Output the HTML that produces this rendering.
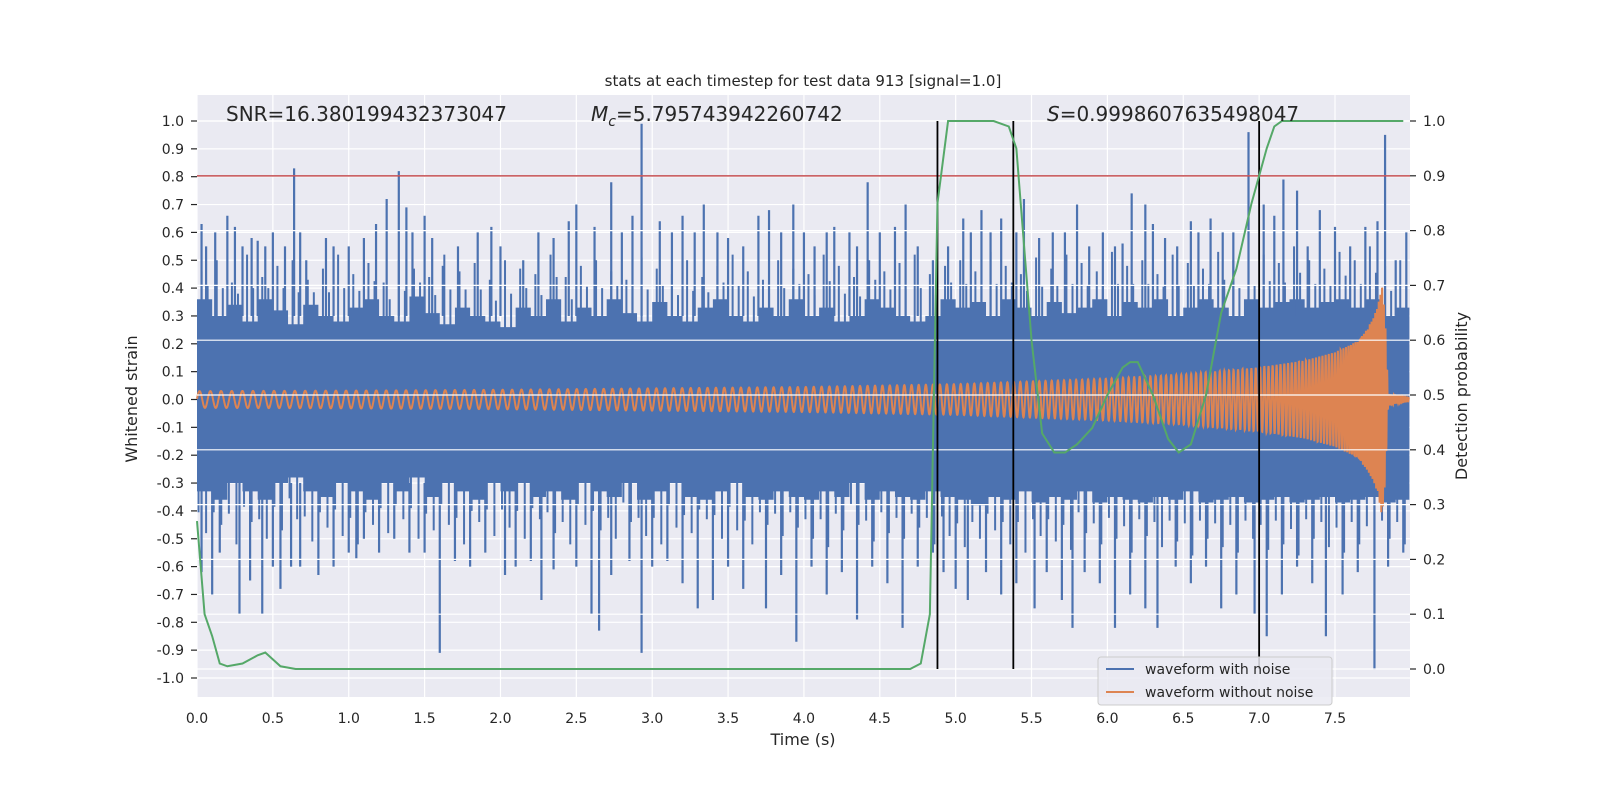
<!DOCTYPE html>
<html><head><meta charset="utf-8"><style>
html,body{margin:0;padding:0;background:#fff;overflow:hidden;width:1600px;height:800px}
svg{display:block;font-family:"DejaVu Sans","Liberation Sans",sans-serif}
</style></head><body>
<svg id="chart" width="1600" height="800" viewBox="0 0 1600 800" xmlns="http://www.w3.org/2000/svg">
<rect width="1600" height="800" fill="#fff"/>
<g id="bg"></g>
<g id="g1"></g>
<g id="g2"></g>
<text x="803" y="86" font-size="15" text-anchor="middle" fill="#262626">stats at each timestep for test data 913 [signal=1.0]</text>
<text x="226" y="121" font-size="20" fill="#262626">SNR=16.380199432373047</text>
<text x="591" y="121" font-size="20" fill="#262626"><tspan font-style="italic">M</tspan><tspan font-style="italic" font-size="14" dy="5">c</tspan><tspan dy="-5">=5.795743942260742</tspan></text>
<text x="1047" y="121" font-size="20" fill="#262626"><tspan font-style="italic">S</tspan>=0.9998607635498047</text>
<text x="803" y="745" font-size="16" text-anchor="middle" fill="#262626">Time (s)</text>
<text transform="translate(137,399) rotate(-90)" font-size="16" text-anchor="middle" fill="#262626">Whitened strain</text>
<text transform="translate(1467,396) rotate(-90)" font-size="16" text-anchor="middle" fill="#262626">Detection probability</text>
<g>
<rect x="1098" y="657" width="234" height="48" rx="3" fill="#eaeaf2" fill-opacity="0.85" stroke="#ccc"/>
<line x1="1106" y1="669" x2="1134" y2="669" stroke="#4c72b0" stroke-width="2"/>
<text x="1145" y="674" font-size="14" fill="#262626">waveform with noise</text>
<line x1="1106" y1="692" x2="1134" y2="692" stroke="#dd8452" stroke-width="2"/>
<text x="1145" y="697" font-size="14" fill="#262626">waveform without noise</text>
</g>
</svg>
<script>
const xTicks=[0,0.5,1,1.5,2,2.5,3,3.5,4,4.5,5,5.5,6,6.5,7,7.5];
const yTicks=[-1,-0.9,-0.8,-0.7,-0.6,-0.5,-0.4,-0.3,-0.2,-0.1,0,0.1,0.2,0.3,0.4,0.5,0.6,0.7,0.8,0.9,1];
const y2Ticks=[0,0.1,0.2,0.3,0.4,0.5,0.6,0.7,0.8,0.9,1];
const bandUpper=[0.36,0.3,0.34,0.28,0.36,0.32,0.27,0.34,0.3,0.28,0.33,0.36,0.3,0.28,0.37,0.31,0.27,0.33,0.3,0.28,0.26,0.33,0.3,0.36,0.28,0.33,0.3,0.36,0.31,0.28,0.35,0.3,0.28,0.33,0.36,0.3,0.28,0.33,0.3,0.36,0.3,0.33,0.28,0.3,0.36,0.33,0.3,0.28,0.3,0.36,0.33,0.35,0.3,0.36,0.33,0.3,0.35,0.31,0.33,0.36,0.3,0.35,0.33,0.36,0.3,0.33,0.36,0.33,0.3,0.36,0.33,0.35,0.36,0.33,0.35,0.36,0.33,0.36,0.3,0.33];
const bandLower=[-0.33,-0.36,-0.3,-0.33,-0.36,-0.3,-0.28,-0.33,-0.35,-0.3,-0.33,-0.36,-0.3,-0.33,-0.28,-0.35,-0.3,-0.33,-0.36,-0.3,-0.33,-0.3,-0.35,-0.33,-0.36,-0.3,-0.33,-0.35,-0.3,-0.36,-0.33,-0.3,-0.35,-0.36,-0.33,-0.3,-0.35,-0.36,-0.33,-0.35,-0.36,-0.33,-0.35,-0.3,-0.36,-0.33,-0.35,-0.36,-0.33,-0.35,-0.36,-0.38,-0.35,-0.36,-0.33,-0.37,-0.35,-0.36,-0.33,-0.37,-0.35,-0.36,-0.37,-0.35,-0.36,-0.33,-0.37,-0.36,-0.35,-0.37,-0.36,-0.35,-0.37,-0.36,-0.35,-0.37,-0.36,-0.35,-0.37,-0.36];
const midUpV=[0.46,0.5,0.42,0.52,0.44,0.48,0.5,0.43,0.47,0.52,0.45,0.49,0.42,0.5,0.47,0.44,0.52,0.46,0.49,0.43,0.5,0.47,0.45,0.52,0.44,0.48,0.5,0.46,0.43,0.51,0.47,0.45,0.5,0.44,0.48,0.52,0.46,0.43,0.5,0.47,0.45,0.52,0.48,0.44,0.5,0.46,0.49,0.52,0.45,0.48,0.5,0.46,0.53,0.48,0.45,0.51,0.47,0.52,0.49,0.46,0.53,0.48,0.5,0.45,0.52,0.49,0.47,0.53,0.5,0.46,0.52,0.49,0.55,0.5,0.47,0.53,0.5,0.55,0.48,0.5];
const midLowV=[-0.48,-0.45,-0.52,-0.44,-0.5,-0.47,-0.43,-0.51,-0.46,-0.49,-0.52,-0.45,-0.48,-0.43,-0.5,-0.47,-0.45,-0.52,-0.44,-0.49,-0.46,-0.5,-0.43,-0.48,-0.52,-0.45,-0.47,-0.5,-0.44,-0.49,-0.52,-0.46,-0.48,-0.43,-0.5,-0.47,-0.52,-0.45,-0.49,-0.46,-0.5,-0.53,-0.47,-0.45,-0.51,-0.48,-0.5,-0.46,-0.52,-0.49,-0.53,-0.5,-0.47,-0.52,-0.55,-0.49,-0.51,-0.54,-0.48,-0.52,-0.5,-0.55,-0.49,-0.53,-0.51,-0.56,-0.5,-0.53,-0.55,-0.5,-0.54,-0.52,-0.56,-0.5,-0.53,-0.55,-0.52,-0.56,-0.5,-0.52];
const upSpikeT=[0.03,0.06,0.12,0.2,0.25,0.3,0.36,0.4,0.45,0.5,0.58,0.64,0.68,0.72,0.85,0.9,1.0,1.1,1.18,1.25,1.33,1.38,1.42,1.5,1.55,1.62,1.72,1.85,1.94,2.0,2.15,2.25,2.35,2.45,2.5,2.62,2.73,2.8,2.87,2.93,3.05,3.13,3.2,3.28,3.34,3.43,3.5,3.6,3.7,3.77,3.85,3.93,4.0,4.07,4.15,4.2,4.3,4.35,4.42,4.5,4.6,4.67,4.75,4.85,4.95,5.05,5.1,5.17,5.23,5.3,5.4,5.45,5.55,5.64,5.72,5.8,5.88,5.97,6.05,6.1,6.16,6.25,6.3,6.38,6.46,6.55,6.6,6.68,6.76,6.83,6.93,7.03,7.1,7.16,7.25,7.32,7.4,7.5,7.6,7.7,7.78,7.83,7.9,7.97];
const upSpikeV=[0.63,0.55,0.6,0.66,0.62,0.55,0.58,0.57,0.55,0.6,0.55,0.83,0.6,0.5,0.58,0.55,0.55,0.58,0.63,0.72,0.82,0.69,0.6,0.66,0.58,0.48,0.55,0.6,0.62,0.55,0.5,0.6,0.58,0.64,0.7,0.62,0.78,0.6,0.66,0.99,0.64,0.6,0.66,0.6,0.7,0.6,0.58,0.55,0.66,0.68,0.6,0.7,0.6,0.55,0.6,0.62,0.6,0.55,0.78,0.6,0.62,0.7,0.55,0.5,0.55,0.65,0.6,0.68,0.6,0.65,0.6,0.72,0.58,0.6,0.6,0.7,0.55,0.6,0.55,0.56,0.74,0.7,0.63,0.58,0.55,0.64,0.6,0.65,0.6,0.6,0.96,0.7,0.66,0.79,0.75,0.55,0.68,0.62,0.55,0.62,0.64,0.95,0.5,0.6];
const lowSpikeT=[0.03,0.1,0.15,0.28,0.35,0.43,0.5,0.55,0.62,0.68,0.8,0.9,1.0,1.05,1.1,1.2,1.3,1.4,1.5,1.6,1.7,1.8,1.9,2.03,2.1,2.2,2.27,2.35,2.5,2.6,2.65,2.73,2.85,2.93,3.0,3.1,3.2,3.3,3.4,3.5,3.6,3.75,3.85,3.95,4.05,4.15,4.25,4.35,4.45,4.55,4.65,4.75,4.85,4.92,5.0,5.08,5.2,5.3,5.4,5.52,5.6,5.7,5.77,5.85,5.95,6.05,6.15,6.25,6.33,6.45,6.55,6.65,6.75,6.85,6.97,7.05,7.15,7.25,7.35,7.44,7.55,7.65,7.76,7.85,7.95];
const lowSpikeV=[-0.62,-0.7,-0.55,-0.77,-0.65,-0.77,-0.6,-0.68,-0.6,-0.6,-0.63,-0.6,-0.55,-0.57,-0.5,-0.55,-0.5,-0.55,-0.55,-0.91,-0.58,-0.6,-0.55,-0.63,-0.6,-0.58,-0.72,-0.61,-0.6,-0.77,-0.83,-0.63,-0.58,-0.91,-0.6,-0.58,-0.66,-0.75,-0.72,-0.6,-0.68,-0.75,-0.63,-0.87,-0.6,-0.7,-0.62,-0.79,-0.6,-0.66,-0.82,-0.6,-0.55,-0.62,-0.68,-0.72,-0.62,-0.7,-0.66,-0.75,-0.62,-0.72,-0.82,-0.62,-0.66,-0.82,-0.7,-0.75,-0.82,-0.6,-0.66,-0.6,-0.75,-0.7,-0.77,-0.85,-0.7,-0.6,-0.66,-0.85,-0.7,-0.62,-0.97,-0.6,-0.55];
const orangeT=[0,1,2,3,4,4.5,5,5.5,6,6.5,7,7.3,7.5,7.65,7.72,7.78,7.81,7.83,7.85,7.99];
const orangeAmp=[0.03,0.032,0.035,0.04,0.045,0.05,0.055,0.065,0.075,0.09,0.115,0.14,0.17,0.21,0.26,0.33,0.42,0.3,0.02,0.005];
const freqT=[0,2,4,5,6,7,7.5,7.8,7.99];
const freqHz=[14,16,19,22,26,35,50,90,90];
const probT=[0,0.05,0.1,0.15,0.2,0.3,0.4,0.45,0.55,0.65,4.7,4.77,4.83,4.88,4.95,5.25,5.35,5.4,5.5,5.57,5.65,5.72,5.8,5.9,6.0,6.1,6.15,6.2,6.3,6.4,6.47,6.55,6.65,6.75,6.85,6.95,7.05,7.1,7.15,7.95];
const probV=[0.27,0.1,0.06,0.01,0.005,0.01,0.025,0.03,0.005,0,0,0.01,0.1,0.85,1.0,1.0,0.99,0.95,0.6,0.43,0.395,0.395,0.41,0.44,0.5,0.55,0.56,0.56,0.5,0.42,0.395,0.41,0.5,0.65,0.73,0.85,0.95,0.99,1.0,1.0];
const threshold=[0.803];
const markerT=[4.88,5.38,7.0];

const L=197,R=1410,T=95,B=697;
const X=t=>L+t*(1335-197)/7.5;
const Y=v=>399.5-v*278.5;
const Y2=p=>669-p*548;
const NS="http://www.w3.org/2000/svg";
function mk(tag,attrs,parent){const e=document.createElementNS(NS,tag);for(const k in attrs)e.setAttribute(k,attrs[k]);parent.appendChild(e);return e;}
function interp(ts,vs,t){if(t<=ts[0])return vs[0];for(let i=1;i<ts.length;i++){if(t<=ts[i]){const f=(t-ts[i-1])/(ts[i]-ts[i-1]);return vs[i-1]+f*(vs[i]-vs[i-1]);}}return vs[vs.length-1];}
const bg=document.getElementById('bg'),g1=document.getElementById('g1'),g2=document.getElementById('g2');
const plot=mk('rect',{x:L,y:T,width:R-L,height:B-T,fill:'#eaeaf2'},bg);


xTicks.forEach(t=>{
  const gl=mk('line',{x1:X(t),x2:X(t),y1:T,y2:B,stroke:'#fff','stroke-width':1.2},bg);
  
  
  const tx=mk('text',{x:X(t),y:723,'font-size':14,'text-anchor':'middle',fill:'#262626'},bg);
  tx.textContent=t.toFixed(1);
  
  
});
yTicks.forEach(v=>{
  const gl=mk('line',{x1:L,x2:R,y1:Y(v),y2:Y(v),stroke:'#fff','stroke-width':1.2},bg);
  
  
  const tk=mk('line',{x1:L-6,x2:L,y1:Y(v),y2:Y(v),stroke:'#262626','stroke-width':1.2},bg);
  
  
  const tx=mk('text',{x:L-13,y:Y(v)+5,'font-size':14,'text-anchor':'end',fill:'#262626'},bg);
  tx.textContent=v.toFixed(1);
  
  
});
// blue band
let d='';
const dt=0.1;
bandUpper.forEach((v,i)=>{d+=(i?'L':'M')+X(i*dt)+','+Y(v)+'L'+X(Math.min((i+1)*dt,7.99))+','+Y(v);});
for(let i=bandLower.length-1;i>=0;i--){d+='L'+X(Math.min((i+1)*dt,7.99))+','+Y(bandLower[i])+'L'+X(i*dt)+','+Y(bandLower[i]);}
const band=mk('path',{d:d+'Z',fill:'#4c72b0'},g1);


midUpV.forEach((v,i)=>{
  const t=i*dt+0.03,t2=i*dt+0.07;
  const a=mk('line',{x1:X(t),x2:X(t),y1:Y(0.2),y2:Y(v),stroke:'#4c72b0','stroke-width':2},g1);
  
  
  const b=mk('line',{x1:X(t2),x2:X(t2),y1:Y(0.2),y2:Y((v+bandUpper[i])/2),stroke:'#4c72b0','stroke-width':2},g1);
  
  
});
midLowV.forEach((v,i)=>{
  const t=i*dt+0.06,t2=i*dt+0.01;
  const a=mk('line',{x1:X(t),x2:X(t),y1:Y(-0.2),y2:Y(v),stroke:'#4c72b0','stroke-width':2},g1);
  
  
  const b=mk('line',{x1:X(t2),x2:X(t2),y1:Y(-0.2),y2:Y((v+bandLower[i])/2),stroke:'#4c72b0','stroke-width':2},g1);
  
  
});
upSpikeT.forEach((t,i)=>{
  const s=mk('line',{x1:X(t),x2:X(t),y1:Y(0.3),y2:Y(upSpikeV[i]),stroke:'#4c72b0','stroke-width':2.2},g1);
  
  
});
lowSpikeT.forEach((t,i)=>{
  const s=mk('line',{x1:X(t),x2:X(t),y1:Y(-0.3),y2:Y(lowSpikeV[i]),stroke:'#4c72b0','stroke-width':2.2},g1);
  
  
});
// orange chirp
let od='',ph=0;
for(let t=0;t<=7.99;t+=0.001){
  ph+=2*Math.PI*interp(freqT,freqHz,t)*0.001;
  od+=(t?'L':'M')+X(t).toFixed(2)+','+Y(interp(orangeT,orangeAmp,t)*Math.sin(ph)).toFixed(2);
}
const op=mk('path',{d:od,fill:'none',stroke:'#dd8452','stroke-width':2},g1);


// right axis grid (on top)
y2Ticks.forEach(p=>{
  const gl=mk('line',{x1:L,x2:R,y1:Y2(p),y2:Y2(p),stroke:'#fff','stroke-width':1.2},g2);
  
  
  const tk=mk('line',{x1:R,x2:R+6,y1:Y2(p),y2:Y2(p),stroke:'#262626','stroke-width':1.2},g2);
  
  
  const tx=mk('text',{x:R+13,y:Y2(p)+5,'font-size':14,fill:'#262626'},g2);
  tx.textContent=p.toFixed(1);
  
  
});
threshold.forEach(v=>{
  const th=mk('line',{x1:L,x2:R,y1:Y(v),y2:Y(v),stroke:'#c44e52','stroke-width':1.5},g2);
  
  
});
markerT.forEach(t=>{
  const m=mk('line',{x1:X(t),x2:X(t),y1:Y2(1),y2:Y2(0),stroke:'#000','stroke-width':1.8},g2);
  
  
});
let pd='';
probT.forEach((t,i)=>{pd+=(i?'L':'M')+X(t)+','+Y2(probV[i]);});
const pl=mk('path',{d:pd,fill:'none',stroke:'#55a868','stroke-width':2},g2);


</script>
</body></html>
